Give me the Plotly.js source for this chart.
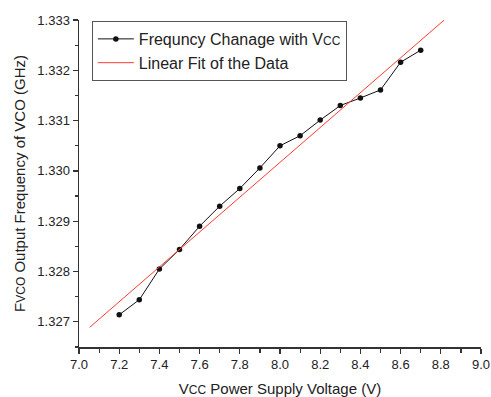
<!DOCTYPE html>
<html>
<head>
<meta charset="utf-8">
<script src="https://cdn.plot.ly/plotly-3.0.1.min.js"></script>
<style>html,body{margin:0;padding:0;background:#fff;}#chart{width:491px;height:397px;}</style>
</head>
<body>
<div id="chart"></div>
<script>
var voltage = [7.2, 7.3, 7.4, 7.5, 7.6, 7.7, 7.8, 7.9, 8.0, 8.1, 8.2, 8.3, 8.4, 8.5, 8.6, 8.7];
var frequency = [1.32714, 1.32744, 1.32805, 1.32844, 1.32890, 1.32930, 1.32965, 1.33006, 1.33050, 1.33070, 1.33101, 1.33130, 1.33145, 1.33161, 1.33216, 1.33240];
var fitVoltage = [7.053, 8.817];
var fitFrequency = [1.32689, 1.33300];

var sub = function(t, s){ return '<span style="font-size:' + s + 'px">' + t + '</span>'; };

var traces = [
  {
    x: voltage, y: frequency, type: 'scatter', mode: 'lines+markers',
    name: 'Frequncy Chanage with V' + sub('CC', 12),
    line: {color: '#111111', width: 1},
    marker: {color: '#111111', size: 5.5}
  },
  {
    x: fitVoltage, y: fitFrequency, type: 'scatter', mode: 'lines',
    name: 'Linear Fit of the Data',
    line: {color: '#ff3b30', width: 1}
  }
];

var axisCommon = {
  showgrid: false, zeroline: false, showline: true, linecolor: '#333', linewidth: 1.5,
  ticks: 'outside', ticklen: 5, tickwidth: 1.2, tickcolor: '#333',
  tickfont: {family: 'Liberation Sans, Arial, sans-serif', size: 13, color: '#222'},
  mirror: false
};

var layout = {
  width: 491, height: 397,
  margin: {l: 79, r: 10, t: 20, b: 50},
  paper_bgcolor: '#fff', plot_bgcolor: '#fff',
  font: {family: 'Liberation Sans, Arial, sans-serif', color: '#222'},
  showlegend: true,
  legend: {
    x: 0.032, y: 0.997, xanchor: 'left', yanchor: 'top',
    bordercolor: '#555', borderwidth: 1, bgcolor: 'rgba(255,255,255,0)',
    font: {family: 'Liberation Sans, Arial, sans-serif', size: 16, color: '#222'},
    itemwidth: 36,
    tracegroupgap: 0
  },
  xaxis: Object.assign({}, axisCommon, {
    range: [7.0, 9.0], dtick: 0.2, tick0: 7.0, tickformat: '.1f',
    minor: {dtick: 0.1, ticks: 'outside', ticklen: 4, tickcolor: '#333', tickwidth: 1.2},
    title: {text: 'V' + sub('CC', 12) + ' Power Supply Voltage (V)', font: {size: 15, color: '#222'}, standoff: 12}
  }),
  yaxis: Object.assign({}, axisCommon, {
    range: [1.3265, 1.333], dtick: 0.001, tick0: 1.327, tickformat: '.3f',
    minor: {dtick: 0.0005, ticks: 'outside', ticklen: 3, tickcolor: '#333', tickwidth: 1.2},
    title: {text: 'F' + sub('VCO', 12) + ' Output Frequency of VCO (GHz)', font: {size: 15, color: '#222'}, standoff: 8}
  })
};

Plotly.newPlot('chart', traces, layout, {displayModeBar: false, staticPlot: true});
</script>
</body>
</html>
